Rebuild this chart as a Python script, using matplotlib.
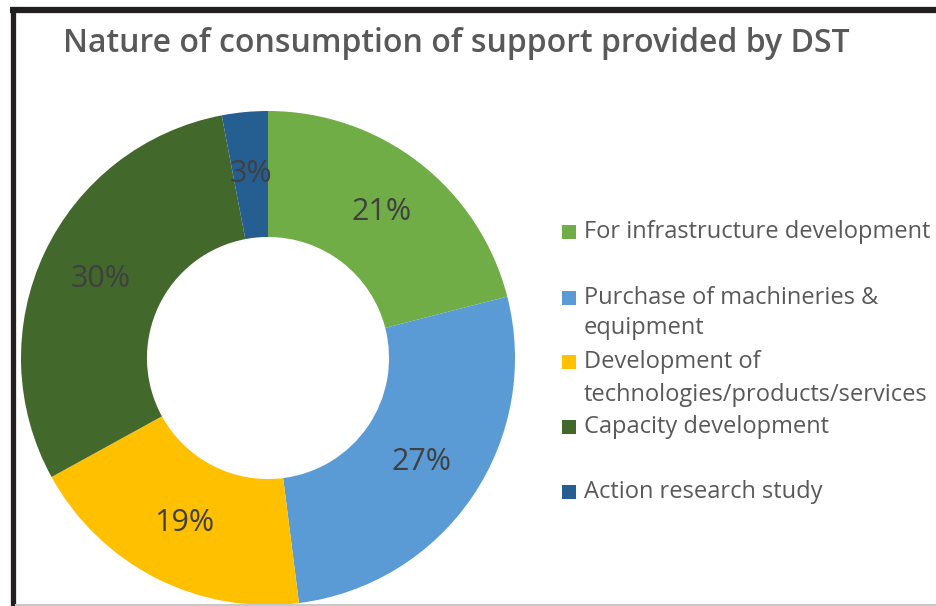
import matplotlib
matplotlib.use("Agg")
import matplotlib.pyplot as plt
from matplotlib.lines import Line2D
from matplotlib.patches import Rectangle

plt.rcParams['font.family'] = ['Open Sans', 'DejaVu Sans']

# data
categories = ["For infrastructure development",
              "Purchase of machineries &\nequipment",
              "Development of\ntechnologies/products/services",
              "Capacity development",
              "Action research study"]
shares = [21, 27, 19, 30, 3]
colors = ["#70AD47", "#5B9BD5", "#FFC000", "#43682B", "#255E91"]

W, H = 937, 606
fig = plt.figure(figsize=(W / 100, H / 100), dpi=100)

def fx(px):
    return px / W

def fy(py):
    return 1 - py / H

# donut
cx, cy, R = 268, 358, 247
ax = fig.add_axes([fx(cx - R), fy(cy + R), 2 * R / W, 2 * R / H])
wedges, texts, autotexts = ax.pie(shares, colors=colors, startangle=90, counterclock=False,
                                  radius=1, autopct=lambda p: f"{p:.0f}%", pctdistance=0.75,
                                  wedgeprops=dict(width=0.51, edgecolor='none'),
                                  textprops=dict(color="#404040", fontsize=22))
ax.set_xlim(-1, 1)
ax.set_ylim(-1, 1)
ax.set_aspect('equal')
ax.axis('off')

# title
fig.text(fx(63), fy(43), "Nature of consumption of support provided by DST",
         fontsize=23, fontweight='semibold', color="#595959", va='center', ha='left')

# legend (manual, Excel-like spacing)
legend_y = [[232], [298, 328], [362, 395], [427], [492]]
for lines, col, lab in zip(legend_y, colors, categories):
    fig.patches.append(Rectangle((fx(562), fy(lines[0] + 7)), 14 / W, 14 / H,
                                 transform=fig.transFigure, facecolor=col, edgecolor='none'))
    for yy, txt in zip(lines, lab.split("\n")):
        fig.text(fx(584), fy(yy), txt, fontsize=17, color="#595959", va='center', ha='left')

# screenshot frame
fig.add_artist(Line2D([fx(10), 1], [fy(10), fy(10)], color="#231f20", lw=4.5,
                      transform=fig.transFigure, solid_capstyle='butt'))
fig.add_artist(Line2D([fx(12.5), fx(12.5)], [fy(8), 0], color="#231f20", lw=3.8,
                      transform=fig.transFigure, solid_capstyle='butt'))
fig.add_artist(Line2D([fx(15), 1], [fy(604.5), fy(604.5)], color="#c8c8c8", lw=1.5,
                      transform=fig.transFigure, solid_capstyle='butt'))

fig.savefig("out.png", dpi=100, facecolor='white')
